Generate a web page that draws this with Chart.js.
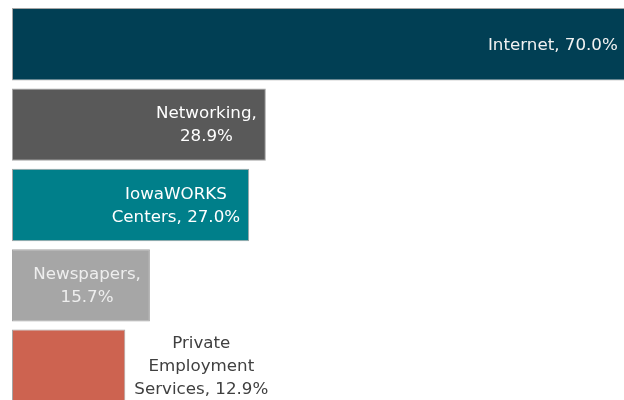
<!DOCTYPE html>
<html>
<head>
<meta charset="utf-8">
<script src="https://cdn.jsdelivr.net/npm/chart.js@4"></script>
<style>
  html, body { margin: 0; padding: 0; background: #ffffff; overflow: hidden; }
  #wrap { width: 624px; height: 400px; overflow: hidden; position: relative; }
  canvas { display: block; }
</style>
</head>
<body>
<div id="wrap"><canvas id="chart" width="640" height="406"></canvas></div>
<script>
// Datos
const categories = ['Internet', 'Networking', 'IowaWORKS Centers', 'Newspapers', 'Private Employment Services'];
const shares = [70.0, 28.9, 27.0, 15.7, 12.9];
// cómo se parte cada etiqueta en líneas
const labelLines = [
    ['Internet, 70.0%'],
    ['Networking,', '28.9%'],
    ['IowaWORKS', 'Centers, 27.0%'],
    ['Newspapers,', '15.7%'],
    ['Private', 'Employment', 'Services, 12.9%']
];
const barColors = ['#013f54', '#595959', '#007f8a', '#a6a6a6', '#cd6350'];
const insideTextColors = ['#f2f2f2', '#ffffff', '#ffffff', '#eeeeee', '#ffffff'];
const outsideTextColor = '#404040';

const FONT = '16.7px "DejaVu Sans"';
const LINE_H = 23;
const PAD = 9;

// Etiquetas de datos tipo Excel: dentro al final, o fuera si no caben
const barLabels = {
    id: 'barLabels',
    afterDatasetsDraw(chart) {
        const ctx = chart.ctx;
        const meta = chart.getDatasetMeta(0);
        ctx.save();
        ctx.font = FONT;
        ctx.textBaseline = 'middle';
        ctx.textAlign = 'center';
        meta.data.forEach((bar, i) => {
            const lines = labelLines[i];
            const w = Math.max(...lines.map(l => ctx.measureText(l).width));
            const barW = bar.x - bar.base;
            const inside = w + PAD * 2 <= barW;
            const cx = inside ? bar.x - PAD - w / 2 : bar.x + PAD + w / 2;
            ctx.fillStyle = inside ? insideTextColors[i] : outsideTextColor;
            const top = bar.y - (lines.length - 1) * LINE_H / 2;
            lines.forEach((line, k) => ctx.fillText(line, cx, top + k * LINE_H + 1));
        });
        ctx.restore();
    }
};

new Chart(document.getElementById('chart'), {
    type: 'bar',
    data: {
        labels: categories,
        datasets: [{
            data: shares,
            backgroundColor: barColors,
            borderColor: '#a5a5a5',
            borderWidth: 1,
            borderSkipped: false,
            categoryPercentage: 1,
            barPercentage: 0.9
        }]
    },
    options: {
        indexAxis: 'y',
        responsive: false,
        animation: false,
        layout: { padding: { left: 12, top: 4, right: 0, bottom: 0 } },
        scales: {
            x: { display: false, min: 0, max: 71.5 },
            y: { display: false }
        },
        plugins: { legend: { display: false }, tooltip: { enabled: false } }
    },
    plugins: [barLabels]
});
</script>
</body>
</html>
